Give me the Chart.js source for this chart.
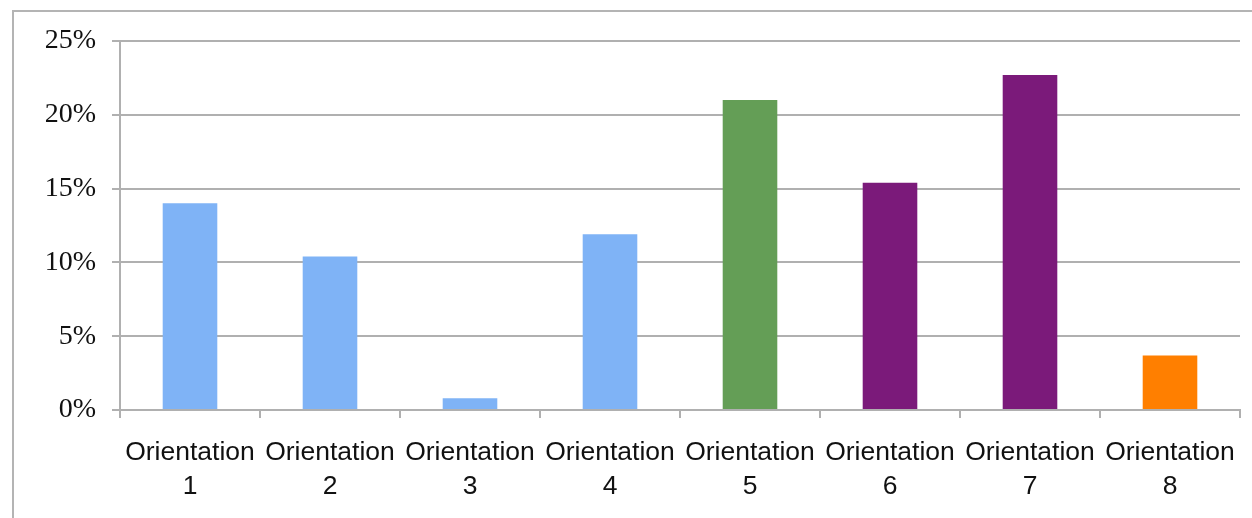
<!DOCTYPE html>
<html>
<head>
<meta charset="utf-8">
<script src="https://cdn.jsdelivr.net/npm/chart.js@4/dist/chart.umd.min.js"></script>
<style>
  html, body { margin: 0; padding: 0; background: #fff; }
  #wrap { width: 1252px; height: 518px; position: relative; }
</style>
</head>
<body>
<div id="wrap"><canvas id="chart"></canvas></div>
<script>
const categories = ['1', '2', '3', '4', '5', '6', '7', '8'];
const shares = [14.0, 10.4, 0.8, 11.9, 21.0, 15.4, 22.7, 3.7];
const barColors = ['#7fb3f6', '#7fb3f6', '#7fb3f6', '#7fb3f6', '#649e56', '#7b1a7a', '#7b1a7a', '#ff7f00'];
const yTicks = [0, 5, 10, 15, 20, 25];

const frame = {
  id: 'frame',
  beforeDraw(chart) {
    const ctx = chart.ctx;
    ctx.save();
    ctx.strokeStyle = '#b4b4b4';
    ctx.lineWidth = 2;
    ctx.beginPath();
    ctx.moveTo(13, 518);
    ctx.lineTo(13, 11);
    ctx.lineTo(1252, 11);
    ctx.stroke();
    ctx.restore();
  }
};

new Chart(document.getElementById('chart'), {
  type: 'bar',
  data: {
    labels: categories.map(c => ['Orientation', c]),
    datasets: [{
      data: shares,
      backgroundColor: barColors,
      barPercentage: 0.39,
      categoryPercentage: 1
    }]
  },
  options: {
    responsive: true,
    maintainAspectRatio: false,
    animation: false,
    layout: { padding: { top: 41, right: 12, left: 0, bottom: 0 } },
    plugins: {
      legend: { display: false },
      tooltip: { enabled: false }
    },
    scales: {
      x: {
        grid: {
          offset: true,
          drawOnChartArea: false,
          color: '#b0b0b0',
          lineWidth: 2,
          tickLength: 8
        },
        border: { color: '#b0b0b0', width: 2 },
        ticks: {
          color: '#111',
          font: { family: 'Liberation Sans', size: 26.5, lineHeight: 1.28 },
          padding: 18,
          maxRotation: 0,
          autoSkip: false
        },
        afterFit(scale) {
          scale.height = 108;
          scale.paddingLeft = 0;
          scale.paddingRight = 0;
        }
      },
      y: {
        min: 0,
        max: 25,
        afterBuildTicks(scale) { scale.ticks = yTicks.map(v => ({ value: v })); },
        grid: {
          color: '#b0b0b0',
          lineWidth: 2,
          tickLength: 8
        },
        border: { color: '#b0b0b0', width: 2 },
        ticks: {
          color: '#111',
          font: { family: 'Liberation Serif', size: 28 },
          padding: 16,
          callback: v => v + '%'
        },
        afterFit(scale) { scale.width = 120; }
      }
    }
  },
  plugins: [frame]
});
</script>
</body>
</html>
